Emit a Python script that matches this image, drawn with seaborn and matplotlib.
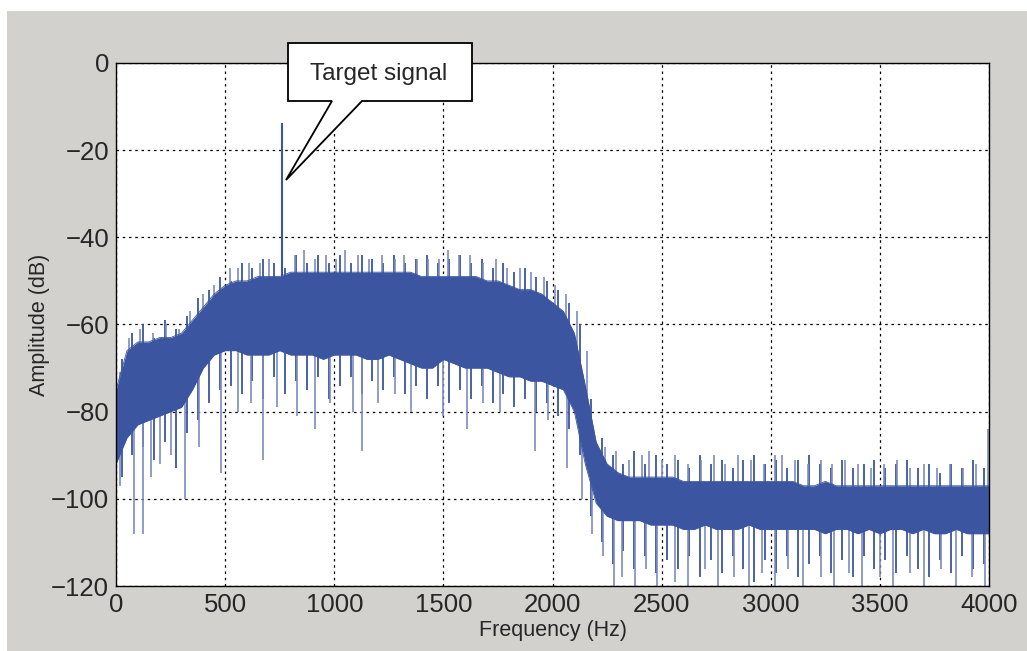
import numpy as np
import seaborn as sns
import matplotlib.pyplot as plt
from matplotlib.patches import Rectangle, Polygon

# spectrum (50 Hz steps)
freq = list(range(0, 4001, 50))
band_top = [-75, -66, -64, -64, -63, -63, -62, -59, -56, -53, -51, -50, -50, -49, -49, -49,
            -48, -48, -48, -48, -48, -48, -48, -48, -48, -48, -48, -48, -49, -49, -49, -49,
            -49, -49, -50, -50, -51, -52, -52, -53, -55, -57, -62, -74, -87, -92, -94, -95,
            -95, -95, -95, -95, -96, -96, -96, -96, -96, -96, -96, -96, -96, -96, -96, -97,
            -97, -96, -97, -97, -97, -97, -97, -97, -97, -97, -97, -97, -97, -97, -97, -97, -97]
band_bottom = [-92, -86, -83, -82, -81, -80, -79, -75, -70, -67, -66, -66, -67, -67, -67, -66,
               -67, -67, -67, -68, -67, -67, -67, -68, -68, -67, -68, -69, -70, -70, -68, -69,
               -70, -70, -70, -71, -72, -72, -73, -73, -74, -75, -80, -92, -101, -104, -105, -105,
               -105, -106, -106, -106, -107, -107, -106, -107, -107, -107, -106, -107, -107, -107, -107, -107,
               -107, -108, -107, -107, -108, -107, -108, -107, -107, -108, -107, -108, -108, -107, -108, -108, -108]

# short noise lines at the band edges (25, 75, ... Hz)
fuzz_freq = list(range(25, 4000, 50))
fuzz_up = [-68, -62, -60, -63, -59, -61, -58, -54, -52, -49,
           -50, -46, -47, -45, -46, -47, -44, -46, -44, -46,
           -44, -46, -44, -45, -46, -44, -46, -45, -44, -46,
           -45, -44, -46, -45, -47, -46, -48, -47, -49, -50,
           -52, -55, -60, -77, -86, -90, -92, -89, -92, -90,
           -92, -91, -93, -90, -92, -91, -93, -91, -90, -92,
           -91, -93, -91, -90, -92, -93, -91, -93, -92, -91,
           -93, -92, -91, -93, -92, -94, -92, -93, -91, -93]
fuzz_down = [-95, -90, -88, -91, -87, -93, -85, -82, -78, -75,
             -74, -76, -73, -77, -72, -76, -73, -75, -72, -77,
             -74, -72, -76, -73, -75, -72, -76, -74, -77, -74,
             -78, -75, -77, -74, -78, -76, -79, -77, -80, -78,
             -81, -84, -90, -104, -110, -115, -112, -116, -113, -117,
             -114, -116, -113, -118, -114, -117, -113, -116, -119, -114,
             -117, -113, -118, -115, -113, -117, -114, -118, -113, -116,
             -114, -117, -113, -116, -118, -114, -117, -113, -116, -115]

# noise peaks sticking out above the band
peak_freq = [20, 60, 110, 170, 230, 290, 340, 400, 450, 520, 560, 610, 660, 700, 820, 860,
             910, 960, 1010, 1050, 1110, 1160, 1220, 1280, 1320, 1380, 1430, 1480, 1520, 1570,
             1620, 1680, 1740, 1790, 1850, 1900, 1960, 2010, 2060, 2110, 2160, 2240, 2290, 2350,
             2410, 2440, 2500, 2560, 2620, 2680, 2740, 2790, 2850, 2910, 2970, 3020, 3050, 3110,
             3170, 3230, 3280, 3340, 3400, 3460, 3520, 3580, 3640, 3700, 3760, 3820, 3880, 3940, 3995]
peak_db = [-71, -63, -61, -62, -60, -61, -57, -53, -51, -47, -47, -46, -46, -45, -44, -43,
           -45, -44, -45, -43, -44, -45, -44, -45, -44, -45, -45, -45, -43, -44,
           -44, -46, -45, -47, -47, -48, -49, -51, -53, -57, -66, -88, -89, -91,
           -90, -89, -91, -90, -92, -91, -90, -92, -90, -91, -92, -90, -90, -91,
           -92, -91, -92, -91, -92, -93, -92, -91, -93, -92, -93, -92, -93, -92, -84]

# dips reaching below the band
dip_freq = [20, 80, 125, 160, 200, 250, 316, 380, 480, 560, 620, 675, 737, 829, 912, 980,
            1087, 1127, 1200, 1280, 1350, 1500, 1607, 1680, 1760, 1920, 1980, 2065, 2133, 2180,
            2230, 2280, 2320, 2380, 2430, 2480, 2560, 2620, 2700, 2760, 2830, 2900, 2960, 3020,
            3080, 3150, 3230, 3290, 3360, 3420, 3500, 3560, 3640, 3700, 3780, 3850, 3920, 3980]
dip_db = [-97, -108, -108, -95, -92, -90, -100, -88, -94, -80, -78, -91, -79, -81, -84, -78,
          -80, -89, -78, -76, -80, -81, -84, -78, -80, -89, -82, -93, -100, -108,
          -113, -120, -118, -120, -116, -120, -119, -120, -116, -120, -118, -120, -117, -120,
          -116, -120, -118, -120, -117, -120, -118, -120, -117, -120, -116, -120, -118, -120]

target_freq = 760
target_db = -13.8

blue = "#3b55a0"
light = "#7d8cc0"

sns.set_style("white")
plt.rcParams["font.family"] = ["Liberation Sans", "DejaVu Sans"]

fig = plt.figure(figsize=(10.27, 6.51), dpi=100, facecolor="white")
fig.patches.append(Rectangle((7 / 1027, 0), 1, 1 - 11 / 651, transform=fig.transFigure,
                             facecolor="#d3d1ce", edgecolor="none", zorder=-10))
ax = fig.add_axes([0.113, 0.0998, 0.850, 0.8035])
ax.set_facecolor("white")

ax.fill_between(freq, band_bottom, band_top, color=blue, lw=0, zorder=3)
sns.lineplot(x=freq, y=band_top, color=blue, lw=0.6, ax=ax, zorder=3)
sns.lineplot(x=freq, y=band_bottom, color=blue, lw=0.6, ax=ax, zorder=3)


def base(f, arr):
    return np.interp(f, freq, arr)


mid = [(t + b) / 2 for t, b in zip(band_top, band_bottom)]
ax.vlines(fuzz_freq, base(fuzz_freq, mid), fuzz_up, color=blue, lw=1.3, zorder=2)
ax.vlines(fuzz_freq, fuzz_down, base(fuzz_freq, mid), color=blue, lw=1.3, zorder=2)
ax.vlines(peak_freq, base(peak_freq, mid), peak_db, color=light, lw=1.2, zorder=2)
ax.vlines(dip_freq, dip_db, base(dip_freq, mid), color=light, lw=1.2, zorder=2)
ax.vlines([target_freq], [base(target_freq, mid)], [target_db], color=blue, lw=1.5, zorder=4)

ax.set_xlim(0, 4000)
ax.set_ylim(-120, 0)
ax.set_xticks(range(0, 4001, 500))
ax.set_yticks(range(-120, 1, 20))
ax.set_yticklabels([str(v).replace("-", "\u2212") for v in range(-120, 1, 20)])
ax.grid(True, color="black", ls=(0, (2, 3)), lw=0.9)
ax.tick_params(direction="in", length=5, labelsize=18.5, pad=5, color="black")
for s in ax.spines.values():
    s.set_color("black")
    s.set_linewidth(1)
    s.set_zorder(6)
ax.set_axisbelow(True)

ax.set_xlabel("Frequency (Hz)", fontsize=15.5, labelpad=2)
ax.set_ylabel("Amplitude (dB)", fontsize=15.5, labelpad=1)

# callout box with pointer
W, H = 1027, 651
box = [(288, 43), (472, 43), (472, 101), (362, 101), (286, 180), (332, 101), (288, 101)]
fig.patches.append(Polygon([(x / W, 1 - y / H) for x, y in box], closed=True,
                           transform=fig.transFigure, facecolor="white",
                           edgecolor="black", lw=1.3, zorder=10))
fig.text(379 / W, 1 - 74 / H, "Target signal", fontsize=17.5, ha="center", va="center", zorder=11)

fig.savefig("out.png", dpi=100, facecolor=fig.get_facecolor())
